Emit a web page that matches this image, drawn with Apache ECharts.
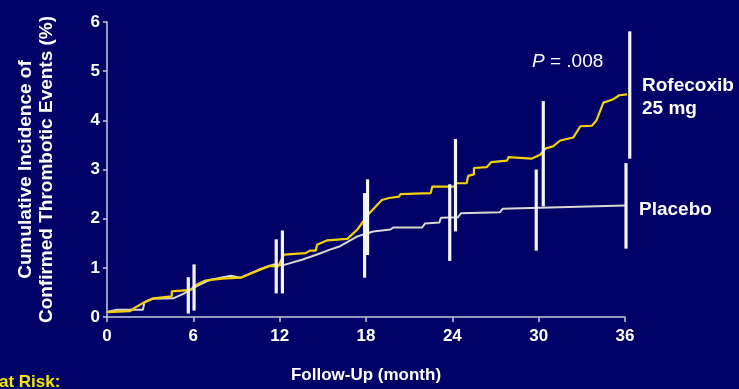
<!DOCTYPE html>
<html>
<head>
<meta charset="utf-8">
<script src="https://cdn.jsdelivr.net/npm/echarts@6/dist/echarts.min.js"></script>
<style>
html,body{margin:0;padding:0;background:#000066;}
#chart{width:739px;height:389px;}
</style>
</head>
<body>
<div id="chart"></div>
<script>
// ---- Data ----
const xTicks = [0, 6, 12, 18, 24, 30, 36];
const yTicks = [0, 1, 2, 3, 4, 5, 6];

// Rofecoxib 25 mg cumulative incidence [month, %]
const rofecoxib = [
  [0,0.10],[1.6,0.12],[2.0,0.20],[2.6,0.30],[3.2,0.38],[4.5,0.42],[4.5,0.52],[5.8,0.55],
  [6.2,0.65],[6.8,0.74],[8.0,0.78],[9.3,0.80],[10.3,0.92],[11.3,1.04],[11.9,1.03],[12.3,1.27],
  [13.8,1.30],[14.1,1.35],[14.5,1.35],[14.6,1.47],[15.3,1.56],[16.7,1.59],[17.4,1.78],[18.2,2.10],
  [19.1,2.38],[19.6,2.42],[20.3,2.45],[20.4,2.50],[22.5,2.52],[22.6,2.65],[24.1,2.65],[24.3,2.72],
  [25.0,2.72],[25.1,2.87],[25.5,2.90],[25.5,3.03],[26.4,3.05],[26.7,3.15],[27.8,3.18],[27.9,3.25],
  [29.5,3.22],[30.1,3.30],[30.5,3.43],[31.0,3.47],[31.5,3.59],[32.4,3.65],[32.9,3.88],[33.7,3.89],
  [34.0,3.99],[34.5,4.36],[35.2,4.43],[35.6,4.51],[36.2,4.53]
];

// Placebo cumulative incidence [month, %]
const placebo = [
  [0,0.10],[0.7,0.15],[2.5,0.15],[2.6,0.30],[3.2,0.37],[4.6,0.38],[5.3,0.47],[6.3,0.64],
  [7.2,0.76],[8.6,0.84],[9.3,0.80],[10.6,0.97],[11.6,1.07],[12.2,1.05],[13.6,1.17],[14.6,1.27],
  [15.5,1.37],[16.2,1.44],[17.4,1.64],[18.5,1.74],[19.7,1.78],[19.9,1.82],[21.9,1.82],[22.1,1.90],
  [23.1,1.92],[23.2,2.02],[24.4,2.03],[24.6,2.11],[27.3,2.13],[27.5,2.20],[36.0,2.27]
];

// 95% CI bars [month, low, high]
const placeboCI = [
  [5.65,0.07,0.81],[11.76,0.48,1.58],[17.9,0.80,2.52],[23.82,1.14,2.70],[29.83,1.35,3.00],[36.07,1.39,3.13]
];
const rofecoxibCI = [
  [6.05,0.13,1.07],[12.19,0.48,1.76],[18.11,1.26,2.80],[24.22,1.74,3.62],[30.32,2.25,4.39],[36.33,3.22,5.81]
];

const labels = {
  pValue: ['P', ' = .008'],
  rofecoxib: ['Rofecoxib', '25 mg'],
  placebo: 'Placebo',
  xName: 'Follow-Up (month)',
  yName: 'Cumulative Incidence of\nConfirmed Thrombotic Events (%)',
  atRisk: 'at Risk:'
};

// ---- Chart ----
const FONT = '"Liberation Sans", Arial, sans-serif';
const chart = echarts.init(document.getElementById('chart'));

function ciRender(params, api) {
  const x = api.value(0), lo = api.value(1), hi = api.value(2);
  const p1 = api.coord([x, lo]);
  const p2 = api.coord([x, hi]);
  return {
    type: 'line',
    shape: { x1: p1[0], y1: p1[1], x2: p2[0], y2: p2[1] },
    style: { stroke: '#f4f4f4', lineWidth: 3.2 }
  };
}

chart.setOption({
  backgroundColor: '#000066',
  animation: false,
  grid: { left: 107, right: 114, top: 22, bottom: 69, containLabel: false },
  xAxis: {
    type: 'value', min: 0, max: 36, interval: 6,
    name: labels.xName, nameLocation: 'middle', nameGap: 50,
    nameTextStyle: { color: '#ffffff', fontSize: 17, fontWeight: 'bold', fontFamily: FONT },
    axisLine: { show: true, lineStyle: { color: '#c8c8dc', width: 1.5 } },
    axisTick: { show: true, length: 5, lineStyle: { color: '#c8c8dc', width: 1.5 } },
    axisLabel: { color: '#ffffff', fontSize: 17, fontWeight: 'bold', fontFamily: FONT, margin: 11,
      formatter: v => xTicks.includes(v) ? String(v) : '' },
    splitLine: { show: false }
  },
  yAxis: {
    type: 'value', min: 0, max: 6, interval: 1,
    name: labels.yName, nameLocation: 'middle', nameGap: 50,
    nameTextStyle: { color: '#ffffff', fontSize: 19, fontWeight: 'bold', fontFamily: FONT, lineHeight: 21 },
    axisLine: { show: true, lineStyle: { color: '#c8c8dc', width: 1.5 } },
    axisTick: { show: true, length: 4, lineStyle: { color: '#c8c8dc', width: 1.5 } },
    axisLabel: { color: '#ffffff', fontSize: 17, fontWeight: 'bold', fontFamily: FONT, margin: 7,
      formatter: v => yTicks.includes(v) ? String(v) : '' },
    splitLine: { show: false }
  },
  series: [
    {
      name: 'Placebo', type: 'line', data: placebo, showSymbol: false, clip: false,
      lineStyle: { color: '#d9d9d2', width: 2 }, z: 2
    },
    {
      name: 'Rofecoxib 25 mg', type: 'line', data: rofecoxib, showSymbol: false, clip: false,
      lineStyle: { color: '#f2d200', width: 2.2 }, z: 3
    },
    {
      name: 'Placebo CI', type: 'custom', data: placeboCI, renderItem: ciRender,
      encode: { x: 0, y: [1, 2] }, clip: false, z: 4
    },
    {
      name: 'Rofecoxib CI', type: 'custom', data: rofecoxibCI, renderItem: ciRender,
      encode: { x: 0, y: [1, 2] }, clip: false, z: 4
    }
  ],
  graphic: [
    { type: 'text', left: 532, top: 52, style: {
        text: '{p|' + labels.pValue[0] + '}{n|' + labels.pValue[1] + '}',
        rich: {
          p: { fontSize: 19, fontStyle: 'italic', fontFamily: FONT, fill: '#ffffff' },
          n: { fontSize: 19, fontFamily: FONT, fill: '#ffffff' }
        }
      } },
    { type: 'text', left: 642, top: 74, style: {
        text: labels.rofecoxib.join('\n'), fill: '#ffffff', fontSize: 19, fontWeight: 'bold',
        fontFamily: FONT, lineHeight: 23 } },
    { type: 'text', left: 639, top: 200, style: {
        text: labels.placebo, fill: '#ffffff', fontSize: 19, fontWeight: 'bold', fontFamily: FONT } },
    { type: 'text', left: -1, top: 374, style: {
        text: labels.atRisk, fill: '#f2e600', fontSize: 17, fontWeight: 'bold', fontFamily: FONT } }
  ]
});
</script>
</body>
</html>
